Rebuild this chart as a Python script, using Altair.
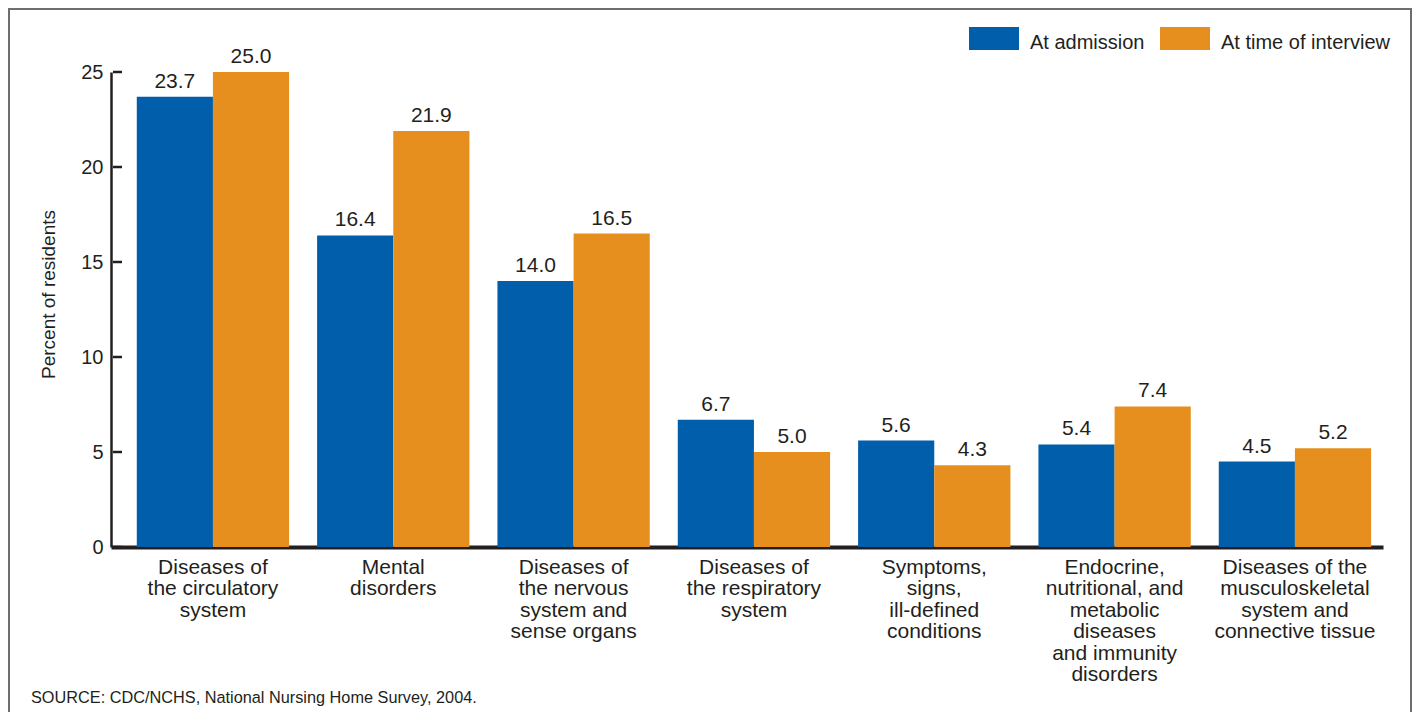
import altair as alt
import pandas as pd

categories = [
    "Diseases of\nthe circulatory\nsystem",
    "Mental\ndisorders",
    "Diseases of\nthe nervous\nsystem and\nsense organs",
    "Diseases of\nthe respiratory\nsystem",
    "Symptoms,\nsigns,\nill-defined\nconditions",
    "Endocrine,\nnutritional, and\nmetabolic\ndiseases\nand immunity\ndisorders",
    "Diseases of the\nmusculoskeletal\nsystem and\nconnective tissue",
]
series = ["At admission", "At time of interview"]
at_admission = [23.7, 16.4, 14.0, 6.7, 5.6, 5.4, 4.5]
at_interview = [25.0, 21.9, 16.5, 5.0, 4.3, 7.4, 5.2]
y_ticks = [0, 5, 10, 15, 20, 25]
colors = ["#005EAA", "#E68E1E"]
y_title = "Percent of residents"
source_note = "SOURCE: CDC/NCHS, National Nursing Home Survey, 2004."

rows = []
for c, a, b in zip(categories, at_admission, at_interview):
    rows.append({"category": c, "series": series[0], "value": a})
    rows.append({"category": c, "series": series[1], "value": b})
df = pd.DataFrame(rows)

TXT = "#231f20"
FONT = "Liberation Sans"
FS = 21

x_enc = alt.X(
    "category:N",
    sort=categories,
    scale=alt.Scale(paddingInner=0.1553, paddingOuter=0.1045, align=0.684),
    axis=alt.Axis(
        title=None,
        labelExpr="split(datum.value, '\\n')",
        labelAngle=0,
        labelFontSize=FS,
        labelLineHeight=21.5,
        labelPadding=9,
        labelBaseline="top",
        labelColor=TXT,
        labelLimit=400,
        labelOverlap=False,
        labelBound=False,
        ticks=False,
        tickSize=0,
        domainWidth=4,
        domainColor=TXT,
        grid=False,
    ),
)
xoff_enc = alt.XOffset(
    "series:N", sort=series, scale=alt.Scale(domain=series, paddingInner=0, paddingOuter=0)
)
y_scale = alt.Scale(domain=[0, 25], nice=False, zero=True)
y_enc = alt.Y(
    "value:Q",
    scale=y_scale,
    axis=alt.Axis(
        values=y_ticks,
        title=y_title,
        grid=False,
        ticks=False,
        tickSize=0,
        labelPadding=8,
        labelFontSize=20,
        labelColor=TXT,
        domainWidth=2.5,
        domainColor=TXT,
        titleFontSize=19,
        titleFontWeight="normal",
        titleColor=TXT,
        titleX=-57,
        titleY=222,
        titleAngle=270,
        titleAlign="center",
        titleBaseline="alphabetic",
    ),
)

base = alt.Chart(df)

bars = base.mark_bar(strokeWidth=0, opacity=1).encode(
    x=x_enc,
    xOffset=xoff_enc,
    y=y_enc,
    color=alt.Color(
        "series:N",
        sort=series,
        scale=alt.Scale(domain=series, range=colors),
        legend=alt.Legend(
            title=None,
            orient="none",
            legendX=858,
            legendY=-54.5,
            direction="horizontal",
            symbolType="M-1,-0.62L1,-0.62L1,0.3L-1,0.3Z",
            symbolSize=2500,
            symbolStrokeWidth=0,
            symbolOpacity=1,
            labelFontSize=20,
            labelOffset=11,
            labelColor=TXT,
            labelLimit=400,
            columnPadding=15,
            padding=0,
        ),
    ),
)

labels = base.mark_text(
    dy=-9, baseline="alphabetic", fontSize=FS, color=TXT
).encode(
    x=x_enc,
    xOffset=xoff_enc,
    y=y_enc,
    text=alt.Text("value:Q", format=".1f"),
)

ticks = alt.Chart(pd.DataFrame({"value": y_ticks})).mark_rule(
    strokeWidth=2.5, color=TXT
).encode(
    y=y_enc,
    x=alt.value(2),
    x2=alt.value(11),
)

border = alt.Chart(pd.DataFrame({"k": [0]})).mark_rect(
    fillOpacity=0, stroke="#6d6e71", strokeWidth=2
).encode(
    x=alt.value(-102), x2=alt.value(1300), y=alt.value(-63), y2=alt.value(700)
)

source = alt.Chart(pd.DataFrame({"t": [source_note]})).mark_text(
    align="left", baseline="alphabetic", fontSize=16.3, color=TXT
).encode(x=alt.value(-80), y=alt.value(631), text="t:N")

chart = (
    alt.layer(border, bars, labels, ticks, source)
    .properties(
        width=1272,
        height=475,
        padding={"left": 103, "top": 64, "right": 29, "bottom": 165},
        autosize=alt.AutoSizeParams(type="none"),
        background="white",
    )
    .configure(font=FONT)
    .configure_view(stroke=None)
)

chart.save("out.html", embed_options={"renderer": "svg", "actions": False})
